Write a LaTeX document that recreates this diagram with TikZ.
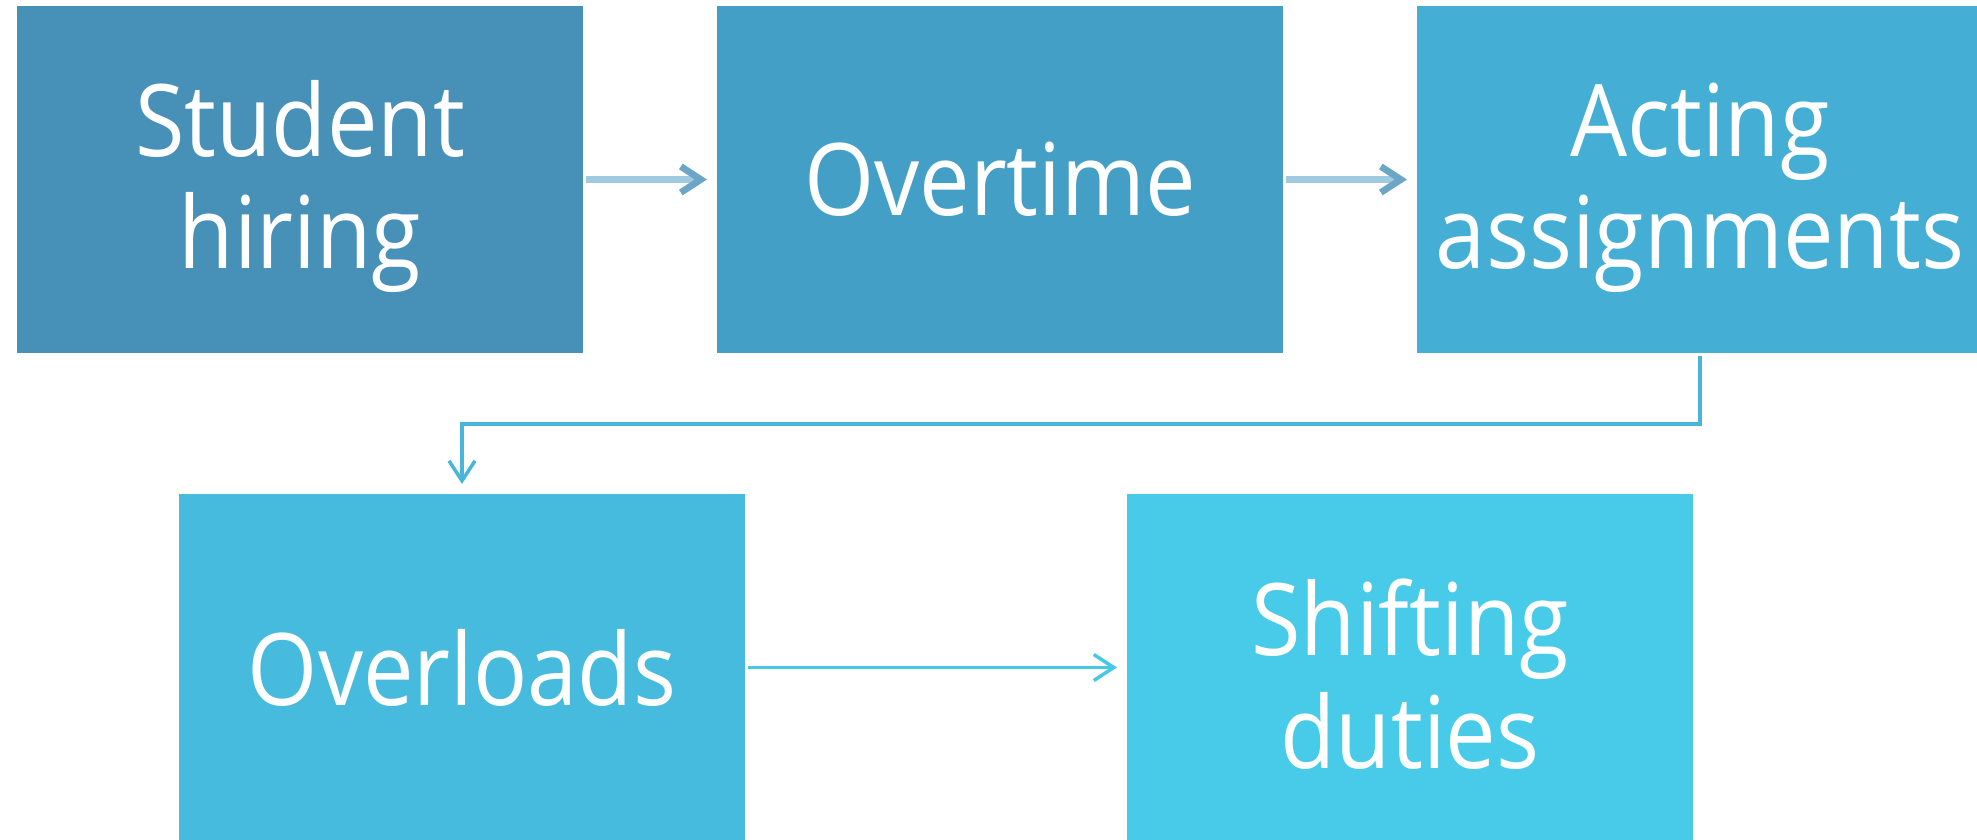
\documentclass[tikz,border=0pt]{standalone}
\usepackage{fontspec}
\newfontfamily\boxfont[FakeStretch=0.9]{Open Sans}
\usetikzlibrary{positioning,arrows.meta}
\definecolor{colSH}{HTML}{4790B8}
\definecolor{colOT}{HTML}{449FC6}
\definecolor{colAA}{HTML}{45AED4}
\definecolor{colOL}{HTML}{46BBDE}
\definecolor{colSD}{HTML}{48CBE8}
\definecolor{lnA}{HTML}{A0CADF}
\definecolor{lnB}{HTML}{48B5DA}
\definecolor{lnC}{HTML}{48C8E8}
\begin{document}
\begin{tikzpicture}[box/.style={minimum width=56.6mm,minimum height=34.7mm,
    inner sep=0pt,outer sep=0pt,text=white,align=center,
    font=\boxfont\fontsize{28.5}{31.9}\selectfont},
  twoline/.style={text height=57.5pt},
  fat/.style={draw=lnA,line width=0.67mm,shorten <=0.3mm,shorten >=1mm,
    -{Straight Barb[length=2mm,width=2.6mm,color=colSH!80]}},
  slim/.style={draw=#1,line width=0.35mm,shorten <=0.3mm,shorten >=1mm,
    -{Straight Barb[length=2mm,width=2.6mm]}}]
 \useasboundingbox (0,0) rectangle (197.7mm,-83.9mm);
 \node[box,twoline,fill=colSH,anchor=north west] (SH) at (1.7mm,-0.6mm) {Student\\hiring};
 \node[box,fill=colOT,right=13.4mm of SH] (OT) {Overtime};
 \node[box,twoline,fill=colAA,right=13.4mm of OT] (AA) {Acting\\assignments};
 \node[box,fill=colOL,below=14.1mm of SH,xshift=16.2mm] (OL) {Overloads};
 \node[box,twoline,fill=colSD,right=38.2mm of OL] (SD) {Shifting\\duties};
 \draw[fat] (SH) -- (OT);
 \draw[fat] (OT) -- (AA);
 \draw[slim=lnB] (AA.south) -- ++(0,-7.1mm) -| (OL.north);
 \draw[slim=lnC] (OL) -- (SD);
\end{tikzpicture}
\end{document}
